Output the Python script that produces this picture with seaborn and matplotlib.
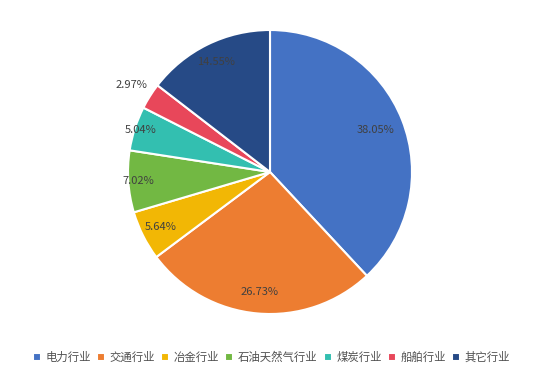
import numpy as np
import matplotlib
matplotlib.use("Agg")
import matplotlib.pyplot as plt
import seaborn as sns

# 数据
industries = ["电力行业", "交通行业", "冶金行业", "石油天然气行业", "煤炭行业", "船舶行业", "其它行业"]
shares = [38.05, 26.73, 5.64, 7.02, 5.04, 2.97, 14.55]
colors = ["#4472C4", "#ED7D31", "#F2B705", "#72B843", "#33BFB0", "#E8475A", "#264A86"]
# 标签离圆心的距离（相对半径）
label_dist = [0.80, 0.85, 0.86, 0.93, 0.96, 1.15, 0.86]

sns.set_theme(style="white")
plt.rcParams["font.family"] = ["Noto Sans CJK SC", "DejaVu Sans"]

fig = plt.figure(figsize=(5.43, 3.73), dpi=100)
ax = fig.add_axes([128 / 543, (373 - 314) / 373, 284 / 543, 284 / 373])

wedges, _ = ax.pie(shares, colors=sns.color_palette(colors), startangle=90,
                   counterclock=False,
                   wedgeprops=dict(edgecolor="white", linewidth=1.5))

# 百分比标签
for w, v, d in zip(wedges, shares, label_dist):
    ang = np.deg2rad((w.theta1 + w.theta2) / 2)
    ax.text(d * np.cos(ang), d * np.sin(ang), f"{v:.2f}%",
            ha="center", va="center", fontsize=8, color="#404040")

ax.set_xlim(-1, 1)
ax.set_ylim(-1, 1)
ax.set_aspect("equal")
ax.axis("off")

fig.legend(wedges, industries, loc="lower center", bbox_to_anchor=(0.5, 0.0),
           ncol=7, frameon=False, fontsize=8.2, handlelength=0.7, handleheight=0.7,
           handletextpad=0.4, columnspacing=0.55, labelcolor="#505050")

fig.savefig("out.png", dpi=100, facecolor="white")
